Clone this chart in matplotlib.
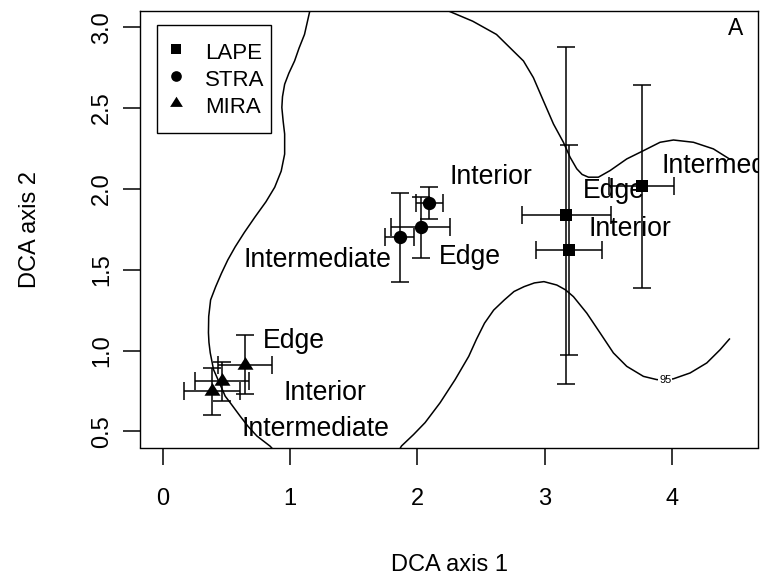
import matplotlib
matplotlib.use('Agg')
import matplotlib.pyplot as plt
from matplotlib.lines import Line2D

plt.rcParams['font.family'] = ['Liberation Sans', 'DejaVu Sans']

# ---------------- data ----------------
groups = ['LAPE', 'STRA', 'MIRA']

# LAPE: Edge, Interior, Intermediate
lape_x = [3.170, 3.195, 3.764]
lape_y = [1.836, 1.621, 2.015]
lape_xerr = [0.350, 0.260, 0.254]
lape_yerr = [1.044, 0.648, 0.626]
lape_labels = ['Edge', 'Interior', 'Intermediate']
lape_lab_x = [3.548, 3.672, 4.497]
lape_lab_y = [1.986, 1.750, 2.144]

# STRA: Interior, Edge, Intermediate
stra_x = [2.095, 2.025, 1.860]
stra_y = [1.914, 1.762, 1.699]
stra_xerr = [0.107, 0.233, 0.116]
stra_yerr = [0.100, 0.187, 0.278]
stra_labels = ['Interior', 'Edge', 'Intermediate']
stra_lab_x = [2.576, 2.415, 1.214]
stra_lab_y = [2.072, 1.576, 1.559]

# MIRA: Edge, Interior, Intermediate
mira_x = [0.649, 0.464, 0.385]
mira_y = [0.913, 0.810, 0.748]
mira_xerr = [0.212, 0.210, 0.223]
mira_yerr = [0.185, 0.120, 0.146]
mira_labels = ['Edge', 'Interior', 'Intermediate']
mira_lab_x = [1.033, 1.275, 1.197]
mira_lab_y = [1.056, 0.738, 0.512]

# 95% contour pieces
contour_left_x = [1.165, 1.153, 1.113, 1.070, 1.035, 0.990, 0.957, 0.940, 0.935, 0.945,
                  0.957, 0.957, 0.930, 0.879, 0.810, 0.724, 0.640, 0.568, 0.510, 0.460,
                  0.415, 0.375, 0.360, 0.358, 0.362, 0.372, 0.398, 0.444, 0.490,
                  0.529, 0.607, 0.670, 0.739, 0.843, 0.922]
contour_left_y = [3.160, 3.094, 2.955, 2.870, 2.791, 2.715, 2.647, 2.570, 2.503, 2.420,
                  2.339, 2.215, 2.110, 2.010, 1.920, 1.826, 1.730, 1.641, 1.560, 1.477,
                  1.395, 1.313, 1.210, 1.110, 1.050, 0.986, 0.882, 0.800, 0.717,
                  0.677, 0.594, 0.530, 0.471, 0.408, 0.340]
contour_top_x = [2.218, 2.248, 2.435, 2.622, 2.755, 2.834, 2.912, 2.991, 3.070,
                 3.148, 3.201, 3.253, 3.295, 3.345, 3.423, 3.515, 3.646, 3.777,
                 3.908, 4.013, 4.170, 4.327, 4.453]
contour_top_y = [3.160, 3.099, 3.037, 2.955, 2.852, 2.791, 2.688, 2.544, 2.401,
                 2.288, 2.195, 2.124, 2.089, 2.072, 2.072, 2.113, 2.185, 2.236,
                 2.288, 2.302, 2.288, 2.247, 2.185]
contour_bottom_x = [1.826, 1.875, 1.970, 2.061, 2.179, 2.297, 2.404, 2.465, 2.528, 2.600,
                    2.684, 2.760, 2.839, 2.920, 2.995, 3.096, 3.165, 3.227, 3.332, 3.437,
                    3.541, 3.646, 3.777, 3.882, 3.948, 4.013, 4.144, 4.275, 4.380, 4.453]
contour_bottom_y = [0.340, 0.409, 0.480, 0.554, 0.677, 0.820, 0.964, 1.070, 1.169, 1.250,
                    1.313, 1.365, 1.395, 1.418, 1.426, 1.405, 1.375, 1.333, 1.231, 1.108,
                    0.985, 0.902, 0.840, 0.820, 0.817, 0.825, 0.861, 0.923, 1.005, 1.071]
contour_level = '95'
contour_label_x = 3.948
contour_label_y = 0.817

x_ticks = [0, 1, 2, 3, 4]
y_ticks = [0.5, 1.0, 1.5, 2.0, 2.5, 3.0]
y_ticklabels = ['0.5', '1.0', '1.5', '2.0', '2.5', '3.0']
panel_letter = 'A'

# ---------------- figure ----------------
fig = plt.figure(figsize=(7.6, 5.8), dpi=100)
ax = fig.add_axes([140 / 760, (580 - 447.5) / 580, (758.3 - 140) / 760, (447.5 - 11) / 580])

lw = 1.1
for cx, cy in [(contour_left_x, contour_left_y), (contour_top_x, contour_top_y),
               (contour_bottom_x, contour_bottom_y)]:
    ax.plot(cx, cy, color='black', lw=lw, zorder=1, solid_joinstyle='round')
ax.text(contour_label_x, contour_label_y, contour_level, fontsize=8, ha='center', va='center',
        bbox=dict(facecolor='white', edgecolor='none', pad=0.8), zorder=2)

tri = [(0, 1.06), (-1, -0.53), (1, -0.53)]
markers = {'LAPE': ('s', 9.1), 'STRA': ('o', 9.6), 'MIRA': (tri, 12.2)}

sets = [
    ('LAPE', lape_x, lape_y, lape_xerr, lape_yerr, lape_labels, lape_lab_x, lape_lab_y),
    ('STRA', stra_x, stra_y, stra_xerr, stra_yerr, stra_labels, stra_lab_x, stra_lab_y),
    ('MIRA', mira_x, mira_y, mira_xerr, mira_yerr, mira_labels, mira_lab_x, mira_lab_y),
]
for name, xs, ys, xe, ye, labs, lx, ly in sets:
    ax.errorbar(xs, ys, xerr=xe, yerr=ye, fmt='none', ecolor='black', elinewidth=lw,
                capsize=6.3, capthick=lw, zorder=3)
    m, ms = markers[name]
    ax.plot(xs, ys, linestyle='none', marker=m, markersize=ms, color='black', mew=0, zorder=4)
    for t, tx, ty in zip(labs, lx, ly):
        ax.text(tx, ty, t, fontsize=19.2, ha='center', va='center', clip_on=True, zorder=5)

ax.text(4.504, 2.99, panel_letter, fontsize=16.5, ha='center', va='center')

ax.set_xlim(-0.18, 4.68)
ax.set_ylim(0.40, 3.10)
ax.set_xticks(x_ticks)
ax.set_xticklabels([str(v) for v in x_ticks])
ax.set_yticks(y_ticks)
ax.set_yticklabels(y_ticklabels, rotation=90, va='center')
ax.tick_params(axis='both', length=11.9, width=lw, labelsize=17, direction='out')
ax.tick_params(axis='x', pad=17.5)
ax.tick_params(axis='y', pad=7.5)
for s in ax.spines.values():
    s.set_linewidth(1.0)

ax.set_xlabel('DCA axis 1', fontsize=17)
ax.set_ylabel('DCA axis 2', fontsize=17)
ax.xaxis.set_label_coords(0.5, -(565 - 447.5) / 436.5, transform=ax.transAxes)
ax.yaxis.set_label_coords(-(140 - 30) / 618.3, 0.5, transform=ax.transAxes)
ax.xaxis.label.set_va('center')
ax.yaxis.label.set_va('center')

handles = [Line2D([], [], linestyle='none', marker=markers[g][0], markersize=markers[g][1],
                  color='black', mew=0) for g in groups]
leg_w = 114.0 / 618.3
leg = ax.legend(handles, groups, loc='upper left', bbox_to_anchor=(0.027, 0.5, leg_w, 0.468),
                mode='expand', borderaxespad=0, fontsize=16, markerscale=0.8, fancybox=False,
                edgecolor='black', framealpha=1, borderpad=0.67, labelspacing=0.14,
                handleheight=1.2, handlelength=0.4, handletextpad=1.11)
leg.get_frame().set_linewidth(1.0)

fig.savefig('out.png', dpi=100)
